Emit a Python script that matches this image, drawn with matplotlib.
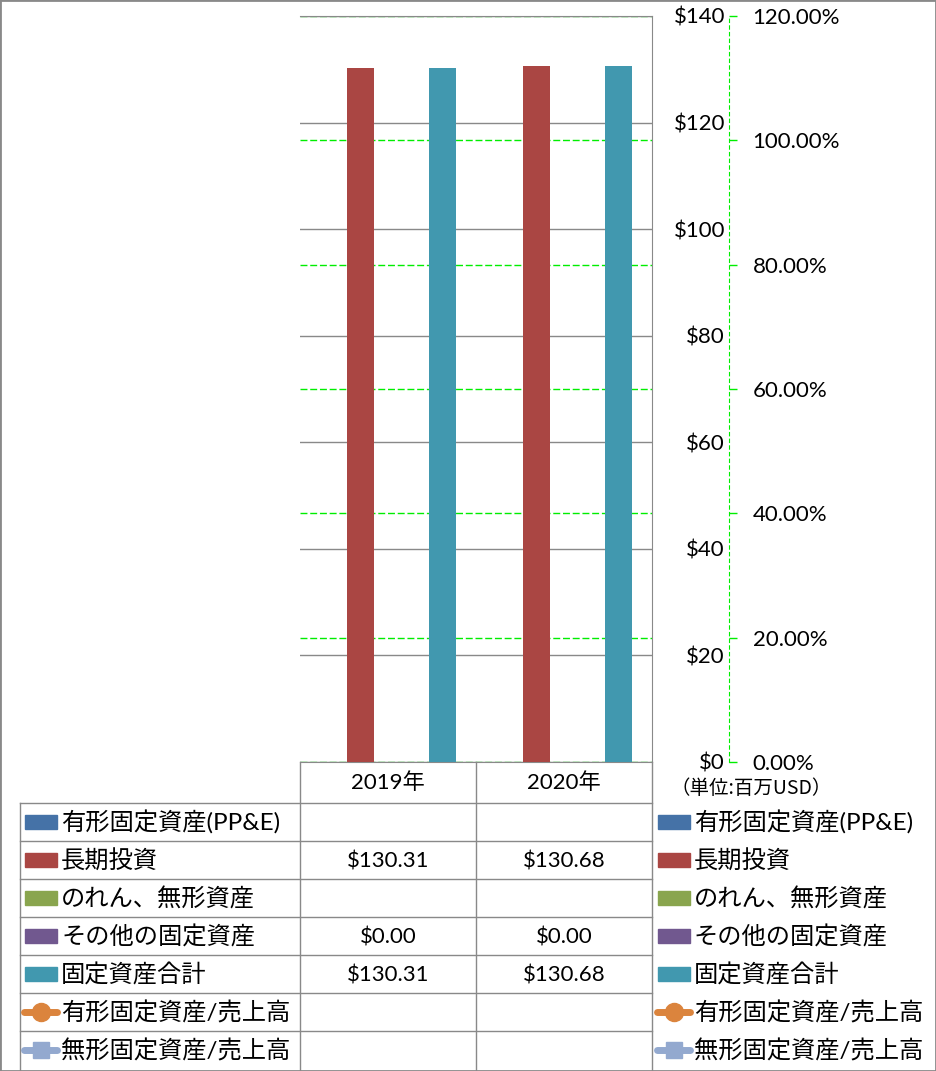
import matplotlib
matplotlib.use('Agg')
import matplotlib.pyplot as plt
from matplotlib.patches import Rectangle
import numpy as np

plt.rcParams['font.family'] = ['Lato', 'Noto Sans CJK JP', 'DejaVu Sans']

years = ['2019年', '2020年']
series_names = ['有形固定資産(PP&E)', '長期投資', 'のれん、無形資産', 'その他の固定資産',
                '固定資産合計', '有形固定資産/売上高', '無形固定資産/売上高']
ppe = [np.nan, np.nan]
lt_invest = [130.31, 130.68]
goodwill = [np.nan, np.nan]
other_fixed = [0.00, 0.00]
total_fixed = [130.31, 130.68]
ppe_ratio = [np.nan, np.nan]
intangible_ratio = [np.nan, np.nan]

bar_series = [ppe, lt_invest, goodwill, other_fixed, total_fixed]
line_series = [ppe_ratio, intangible_ratio]
colors = ['#4572A7', '#AA4643', '#89A54E', '#71588F', '#4198AF', '#DB843D', '#93A9CF']
grid_gray = '#898989'
green = '#00ee00'

W, H = 936, 1071
fig = plt.figure(figsize=(W / 100, H / 100), dpi=100)

# plot area in pixels
px0, px1, py0, py1 = 300, 652, 16, 762
ax = fig.add_axes([px0 / W, 1 - py1 / H, (px1 - px0) / W, (py1 - py0) / H])
ax2 = ax.twinx()
ax2.set_zorder(0)
ax.set_zorder(1)
ax.patch.set_visible(False)

x = np.arange(len(years))
bw = 0.155
for i, vals in enumerate(bar_series):
    ax.bar(x + (i - 2) * bw, vals, width=bw, color=colors[i], zorder=3)

ax.set_xlim(-0.5, 1.5)
ax.set_ylim(0, 140)
ax.set_yticks(np.arange(0, 141, 20))
ax.set_yticklabels(['$%d' % v for v in range(0, 141, 20)])
ax.set_xticks([])
ax.yaxis.tick_right()
ax.tick_params(axis='y', length=0, pad=52.6, labelsize=16)
for lab in ax.get_yticklabels():
    lab.set_ha('right')
ax.grid(axis='y', color=grid_gray, lw=1, zorder=1)
ax.set_axisbelow(True)
ax.spines['left'].set_visible(False)
for s in ['top', 'right', 'bottom']:
    ax.spines[s].set_color(grid_gray)

# secondary axis
ax2.set_ylim(0, 1.2)
ax2.set_yticks(np.arange(0, 1.21, 0.2))
ax2.set_yticklabels(['%.2f%%' % (v * 100) for v in np.arange(0, 1.21, 0.2)])
ax2.grid(axis='y', color=green, lw=1, ls=(0, (5, 2)))
for s in ['top', 'left', 'bottom']:
    ax2.spines[s].set_visible(False)
ax2.spines['right'].set_position(('axes', (729 - px0) / (px1 - px0)))
ax2.spines['right'].set_color(green)
ax2.spines['right'].set_linestyle((0, (3, 3)))
ax2.tick_params(axis='y', colors=green, labelcolor='black', length=6, width=1,
                pad=11, labelsize=16)

# overlay for table and legend
ov = fig.add_axes([0, 0, 1, 1])
ov.set_xlim(0, W)
ov.set_ylim(H, 0)
ov.axis('off')
ov.set_zorder(5)

row_top = 803
row_h = 38
rows = [row_top + i * row_h for i in range(8)]
for yy in rows[:-1]:
    ov.plot([20, px1], [yy, yy], color=grid_gray, lw=1)
ov.plot([20, 20], [row_top, H - 1], color=grid_gray, lw=1)
for xx in [px0, 476]:
    ov.plot([xx, xx], [py1, H - 1], color=grid_gray, lw=1)
ov.plot([px1, px1], [py1, H - 1], color=grid_gray, lw=1)

col_centers = [388, 564]
for j, yr in enumerate(years):
    ov.text(col_centers[j], 783, yr, ha='center', va='center', fontsize=16)

all_series = bar_series + line_series
for r, name in enumerate(series_names):
    yc = rows[r] + row_h / 2
    for kx, tx in [(25, 61), (658, 694)]:
        if r < 5:
            ov.add_patch(Rectangle((kx, yc - 7), 32, 14, color=colors[r]))
        else:
            ov.plot([kx - 1, kx + 32], [yc, yc], color=colors[r], lw=5,
                    solid_capstyle='round')
            ov.plot([kx + 16], [yc], marker='o' if r == 5 else 's',
                    markersize=13 if r == 5 else 12, color=colors[r])
        ov.text(tx, yc + 1, name, ha='left', va='center', fontsize=17.5)
    for j in range(len(years)):
        v = all_series[r][j]
        if not np.isnan(v):
            ov.text(col_centers[j], yc + 1, '$%.2f' % v, ha='center', va='center',
                    fontsize=16)

ov.text(671, 789, '（単位:百万USD）', ha='left', va='center', fontsize=14,
        family=['Noto Sans CJK JP'])

fig.patches.append(Rectangle((0, 0), 1, 1, transform=fig.transFigure, fill=False,
                             edgecolor=grid_gray, lw=2))

fig.savefig('out.png', dpi=100)
